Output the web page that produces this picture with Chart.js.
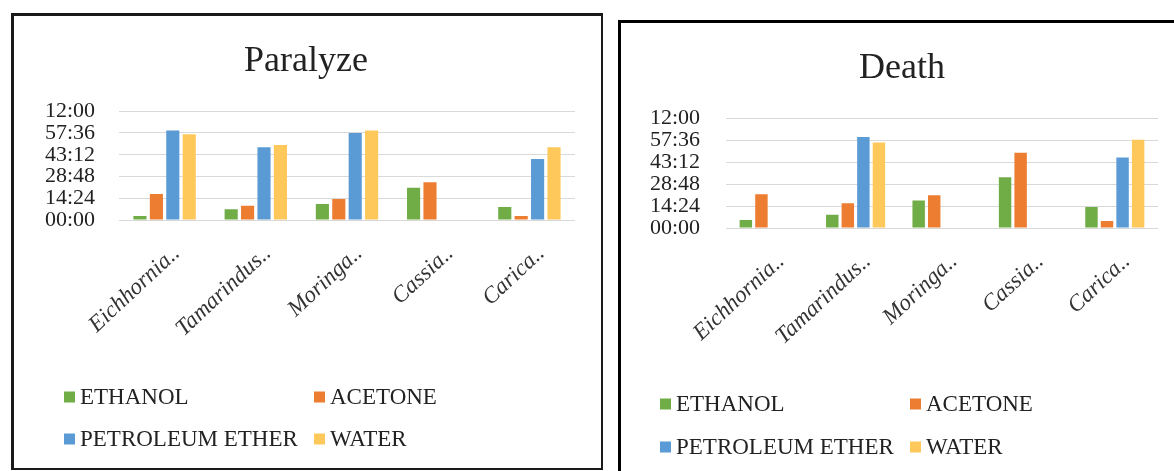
<!DOCTYPE html>
<html>
<head>
<meta charset="utf-8">
<script src="https://cdn.jsdelivr.net/npm/chart.js@4/dist/chart.umd.min.js"></script>
<style>
  body { margin: 0; width: 1174px; height: 471px; background: #fff; overflow: hidden; position: relative; }
  .box { position: absolute; box-sizing: border-box; background: #fff; }
  #boxParalyze { left: 11px; top: 13px; width: 592px; height: 457px; border: 3px solid #1a1a1a; border-right-width: 2px; border-bottom-width: 2px; }
  #boxDeath { left: 618px; top: 20px; width: 580px; height: 470px; border: 3px solid #000; }
  canvas { position: absolute; left: 0; top: 0; }
</style>
</head>
<body>
<div class="box" id="boxParalyze"><canvas id="paralyzeChart"></canvas></div>
<div class="box" id="boxDeath"><canvas id="deathChart"></canvas></div>

<script>
// categories (plant extracts) and series (solvents)
const categories = ["Eichhornia..", "Tamarindus..", "Moringa..", "Cassia..", "Carica.."];
const seriesNames = ["ETHANOL", "ACETONE", "PETROLEUM ETHER", "WATER"];
const seriesColors = ["#70AD47", "#ED7D31", "#5B9BD5", "#FFC85A"];

// y axis: values in minutes, labelled the way the sheet shows them (mm:ss)
const tickValues = [0, 14.4, 28.8, 43.2, 57.6, 72];
const tickLabels = ["00:00", "14:24", "28:48", "43:12", "57:36", "12:00"];

// Paralyze time (minutes)
const paralyzeEthanol = [2.6, 7.1, 10.6, 21.3, 8.6];
const paralyzeAcetone = [17.2, 9.5, 13.9, 24.9, 2.6];
const paralyzePetEther = [59.2, 48.2, 57.5, 0, 40.3];
const paralyzeWater = [56.8, 49.7, 59.2, 0, 48.2];

// Death time (minutes)
const deathEthanol = [5.2, 8.7, 18.0, 33.2, 13.7];
const deathAcetone = [22.1, 16.3, 21.5, 49.4, 4.6];
const deathPetEther = [0, 59.6, 0, 0, 46.2];
const deathWater = [0, 56.1, 0, 0, 57.9];

const FONT = "'Liberation Serif', 'DejaVu Serif', serif";

// legend in two fixed columns, like the spreadsheet one
const gridLegend = {
  id: "gridLegend",
  afterDraw(chart, args, opts) {
    const ctx = chart.ctx;
    ctx.save();
    ctx.font = `23px ${FONT}`;
    ctx.textBaseline = "middle";
    ctx.textAlign = "left";
    chart.data.datasets.forEach((ds, i) => {
      const x = opts.cols[i % 2];
      const y = opts.rows[Math.floor(i / 2)];
      ctx.fillStyle = ds.backgroundColor;
      ctx.fillRect(x, y - 5.5, 11, 11);
      ctx.fillStyle = "#222";
      ctx.fillText(ds.label, x + 16, y + 1);
    });
    ctx.restore();
  },
};

function makeChart(canvasId, title, series, cfg) {
  const canvas = document.getElementById(canvasId);
  canvas.width = cfg.width;
  canvas.height = cfg.height;
  canvas.style.width = cfg.width + "px";
  canvas.style.height = cfg.height + "px";

  return new Chart(canvas.getContext("2d"), {
    type: "bar",
    data: {
      labels: categories,
      datasets: series.map((values, i) => ({
        label: seriesNames[i],
        data: values,
        backgroundColor: seriesColors[i],
        borderWidth: 0,
        categoryPercentage: 0.72,
        barPercentage: 0.8,
      })),
    },
    options: {
      responsive: false,
      animation: false,
      layout: { padding: { left: cfg.padLeft, right: cfg.padRight, top: 0, bottom: cfg.legendSpace } },
      plugins: {
        legend: { display: false },
        tooltip: { enabled: false },
        gridLegend: { cols: cfg.legendCols, rows: cfg.legendRows },
        title: {
          display: true,
          text: title,
          color: "#222",
          font: { family: FONT, size: 36, weight: "normal" },
          padding: { top: 24, bottom: 28 },
        },
      },
      scales: {
        x: {
          grid: { display: false },
          border: { display: false },
          ticks: {
            color: "#333",
            font: { family: FONT, size: 23, style: "italic" },
            minRotation: 43,
            maxRotation: 43,
            autoSkip: false,
            labelOffset: 12,
            padding: 12,
          },
          afterFit: (scale) => { scale.height = cfg.height - cfg.legendSpace - cfg.plotBottom; },
        },
        y: {
          min: 0,
          max: 72,
          grid: { color: "#d9d9d9", lineWidth: 1, drawTicks: false },
          border: { display: false },
          ticks: {
            color: "#222",
            font: { family: FONT, size: 22 },
            padding: cfg.yPad,
            autoSkip: false,
            callback: (value) => {
              const idx = tickValues.findIndex(v => Math.abs(v - value) < 0.01);
              return idx >= 0 ? tickLabels[idx] : "";
            },
          },
          afterBuildTicks: (scale) => { scale.ticks = tickValues.map(v => ({ value: v })); },
          afterFit: (scale) => { scale.width = cfg.plotLeft - cfg.padLeft; },
        },
      },
    },
    plugins: [gridLegend],
  });
}

makeChart("paralyzeChart", "Paralyze",
  [paralyzeEthanol, paralyzeAcetone, paralyzePetEther, paralyzeWater],
  { width: 588, height: 452, legendSpace: 92, padLeft: 23, padRight: 27, plotLeft: 105, plotBottom: 204, yPad: 24,
    legendCols: [50, 300], legendRows: [381, 423] });

makeChart("deathChart", "Death",
  [deathEthanol, deathAcetone, deathPetEther, deathWater],
  { width: 553, height: 452, legendSpace: 92, padLeft: 25, padRight: 16, plotLeft: 105, plotBottom: 205, yPad: 26,
    legendCols: [39, 289], legendRows: [381, 424] });
</script>
</body>
</html>
